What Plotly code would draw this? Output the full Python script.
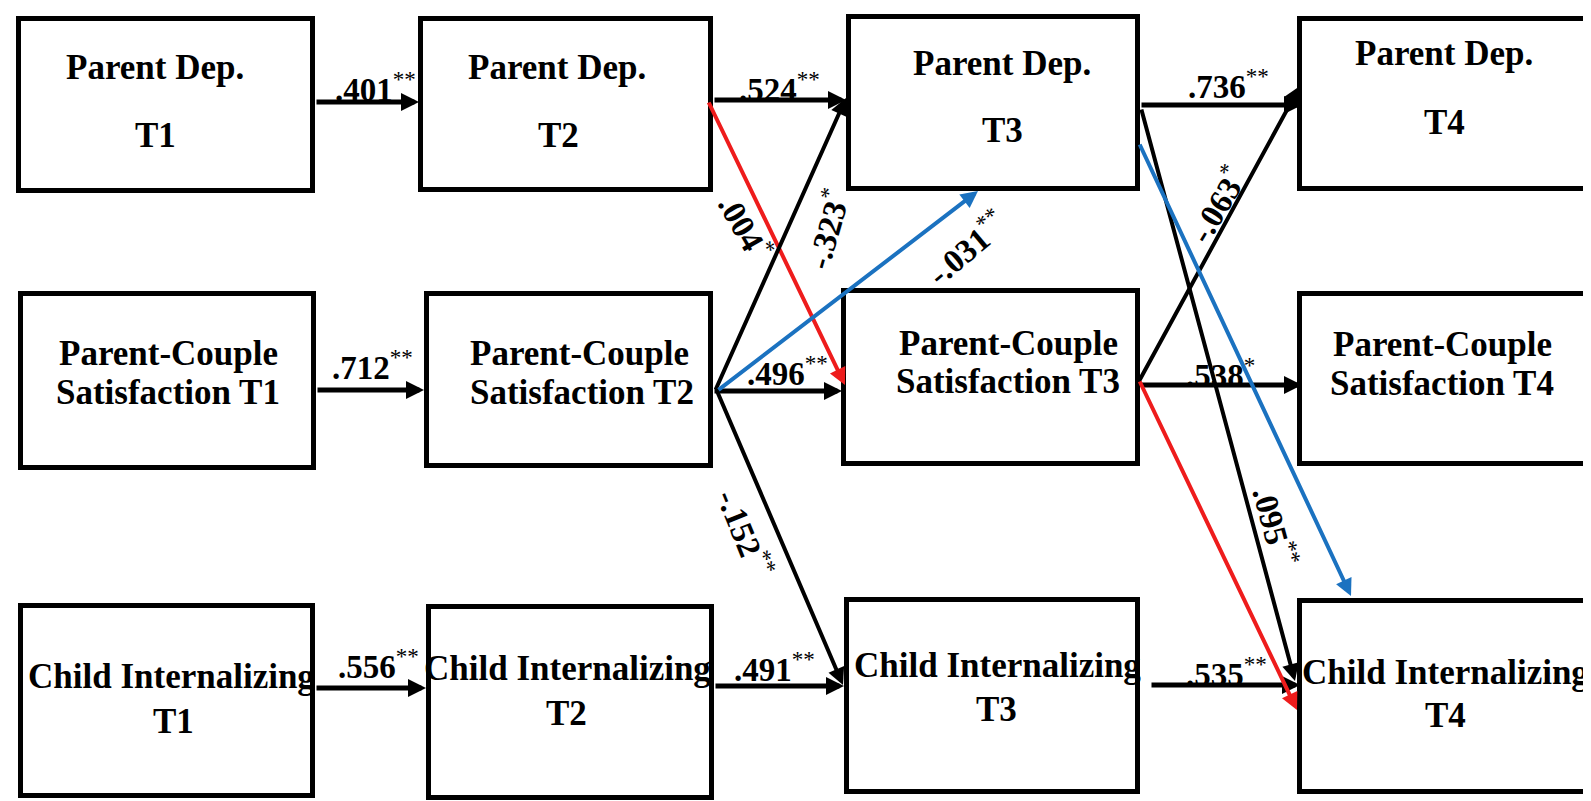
import plotly.graph_objects as go

# Constructs (rows) and waves (columns)
constructs = ["Parent Dep.", "Parent-Couple Satisfaction", "Child Internalizing"]
waves = ["T1", "T2", "T3", "T4"]

# Text shown in each box: first line / second line
line_one = {
    "Parent Dep.": ["Parent Dep."] * 4,
    "Parent-Couple Satisfaction": ["Parent-Couple"] * 4,
    "Child Internalizing": ["Child Internalizing"] * 4,
}
line_two = {
    "Parent Dep.": waves,
    "Parent-Couple Satisfaction": ["Satisfaction " + w for w in waves],
    "Child Internalizing": waves,
}

# Paths: (from row, from wave) -> (to row, to wave), coefficient, significance, colour
path_from = [(0, 0), (1, 0), (2, 0), (0, 1), (0, 2), (1, 1), (1, 2), (2, 1), (2, 2),
             (0, 1), (1, 1), (1, 1), (1, 1), (1, 2), (0, 2), (0, 2), (1, 2)]
path_to = [(0, 1), (1, 1), (2, 1), (0, 2), (0, 3), (1, 2), (1, 3), (2, 2), (2, 3),
           (1, 2), (0, 2), (0, 2), (2, 2), (0, 3), (2, 3), (2, 3), (2, 3)]
path_coef = [".401", ".712", ".556", ".524", ".736", ".496", ".538", ".491", ".535",
             ".004", "-.323", "-.031", "-.152", "-.063", ".095", "", ""]
path_sig = ["**", "**", "**", "**", "**", "**", "*", "**", "**",
            "*", "*", "**", "**", "*", "**", "", ""]
path_color = ["black"] * 9 + ["red", "black", "blue", "black", "black", "black", "blue", "red"]

colors = {"black": "#000000", "red": "#ee1c1c", "blue": "#1b72c0"}

# ---- layout geometry (pixels, y downwards) ----
box_x = [[(8, 307), (410, 705), (838, 1132), (1289, 1584)],
         [(10, 308), (416, 705), (833, 1132), (1289, 1584)],
         [(10, 307), (418, 706), (836, 1132), (1289, 1584)]]
box_y = [[(8, 185), (8, 184), (6, 183), (8, 183)],
         [(283, 462), (283, 460), (280, 458), (283, 458)],
         [(595, 790), (596, 792), (589, 786), (590, 786)]]
text_pos = [[((147, 56), (147, 124)), ((549, 56), (550, 124)), ((994, 52), (994, 119)), ((1436, 42), (1436, 111))],
            [((160, 342), (160, 381)), ((571, 342), (574, 381)), ((1000, 332), (1000, 370)), ((1434, 333), (1434, 372))],
            [((163, 665), (165, 710)), ((559, 657), (558, 702)), ((989, 654), (988, 698)), ((1437, 661), (1437, 704))]]

arrow_tail = [(307, 94), (308, 382), (307, 680), (705, 92), (1132, 97), (705, 383), (1132, 377), (706, 678), (1142, 677),
              (700, 93), (707, 383), (709, 383), (709, 383), (1130, 375), (1133, 100), (1131, 135), (1131, 372)]
arrow_tip = [(411, 94), (416, 382), (418, 680), (838, 92), (1294, 97), (834, 383), (1294, 377), (836, 678), (1292, 677),
             (837, 377), (838, 90), (970, 183), (835, 677), (1292, 78), (1287, 673), (1343, 588), (1289, 702)]
label_pos = [(367, 76), (364, 354), (370, 653), (771, 76), (1220, 73), (779, 360), (1212, 362), (766, 656), (1218, 661),
             (738, 215), (818, 218), (958, 236), (738, 522), (1208, 193), (1268, 515), None, None]
label_angle = [0] * 9 + [60, -74, -40, 68, -59, 75, 0, 0]

W, H = 1591, 801
serif = "Liberation Serif, Times New Roman, serif"
fig = go.Figure()
fig.add_trace(go.Scatter(x=[0, W], y=[0, H], mode="markers", marker=dict(opacity=0),
                         hoverinfo="skip", showlegend=False))

# boxes and their text
for r, name in enumerate(constructs):
    for c in range(len(waves)):
        (x0, x1), (y0, y1) = box_x[r][c], box_y[r][c]
        fig.add_shape(type="rect", x0=x0 + 2.5, x1=x1 - 2.5, y0=y0 + 2.5, y1=y1 - 2.5,
                      line=dict(color="black", width=5), fillcolor="white", layer="below")
        for txt, (tx, ty) in zip([line_one[name][c], line_two[name][c]], text_pos[r][c]):
            fig.add_annotation(x=tx, y=ty + 3, text="<b>" + txt + "</b>", showarrow=False,
                               xanchor="center", yanchor="middle",
                               font=dict(family=serif, size=35, color="black"))

# arrows
for i in range(len(path_from)):
    col = colors[path_color[i]]
    horiz = i < 9
    (ax, ay), (hx, hy) = arrow_tail[i], arrow_tip[i]
    fig.add_annotation(x=hx, y=hy, ax=ax, ay=ay, xref="x", yref="y", axref="x", ayref="y",
                       text="", showarrow=True, arrowhead=2,
                       arrowsize=0.72 if horiz else 0.85,
                       arrowwidth=5 if horiz else 4, arrowcolor=col, standoff=0)

# coefficient labels
for i in range(len(path_from)):
    if path_coef[i]:
        lx, ly = label_pos[i]
        fig.add_annotation(x=lx, y=ly + 3, text="<b>" + path_coef[i] + "</b><sup>" + path_sig[i] + "</sup>",
                           showarrow=False, textangle=label_angle[i],
                           xanchor="center", yanchor="middle",
                           font=dict(family=serif, size=33, color="black"))

fig.update_xaxes(range=[0, W], visible=False, fixedrange=True)
fig.update_yaxes(range=[H, 0], visible=False, fixedrange=True)
fig.update_layout(width=W, height=H, margin=dict(l=0, r=0, t=0, b=0),
                  plot_bgcolor="white", paper_bgcolor="white", showlegend=False)

fig.write_html("out.html")
